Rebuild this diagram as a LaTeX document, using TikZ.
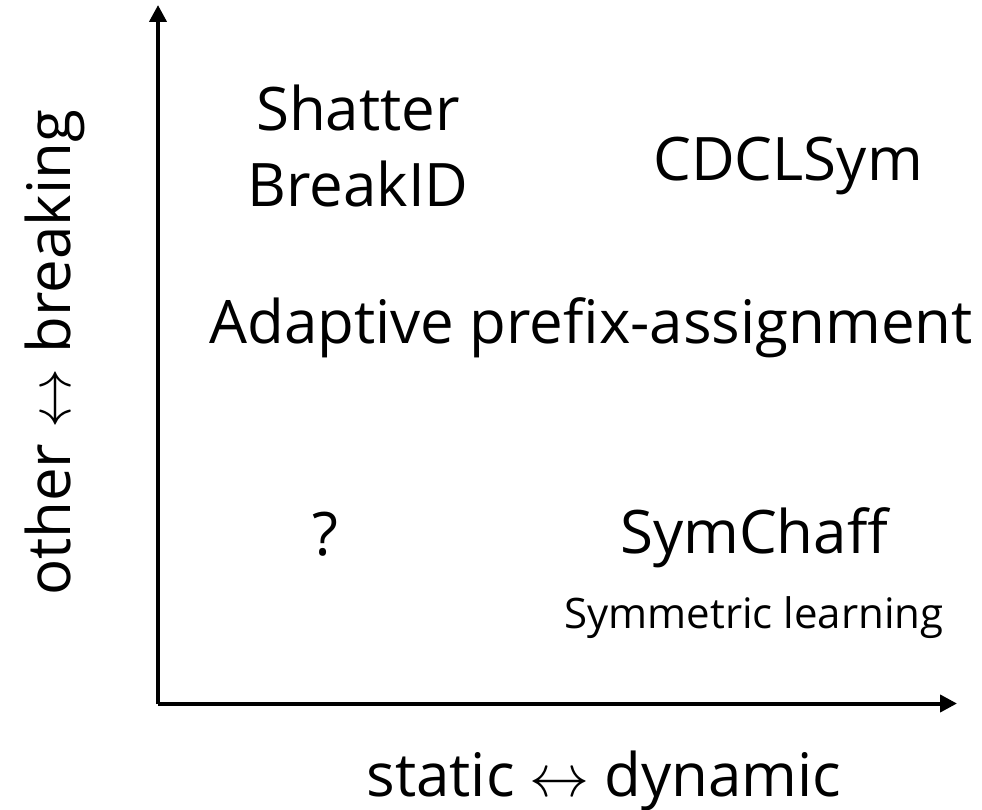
\RequirePackage{fix-cm}
\documentclass[tikz,border=0pt]{standalone}
\usepackage{fontspec}
\setmainfont{Open Sans}
\usetikzlibrary{arrows.meta}
\newcommand{\lrarr}{\hspace{15pt}$\leftrightarrow$\hspace{15pt}}
\tikzset{
  big/.style={font=\fontsize{60}{72}\selectfont, inner sep=0pt, anchor=base},
  small/.style={font=\fontsize{42}{50}\selectfont, inner sep=0pt, anchor=base},
  axis/.style={line width=4pt, -{Triangle[length=17pt,width=17pt]}}
}
\begin{document}
\begin{tikzpicture}[x=1pt,y=-1pt]
\useasboundingbox (0,0) rectangle (982,810);
\coordinate (o) at (158,703.5);
\coordinate (ytip) at (158,5);
\coordinate (xtip) at (957,703.5);
\draw[axis] (o) -- (ytip);
\draw[axis] (o) -- (xtip);
\node[big] (shatter) at (358,131) {Shatter};
\node[big] (breakid) at (358,207) {BreakID};
\node[big] (cdcl) at (788,181) {CDCLSym};
\node[big] (adaptive) at (591,343) {Adaptive prefix-assignment};
\node[big] (q) at (325,555) {?};
\node[big] (symchaff) at (754,553) {SymChaff};
\node[small] (symlearn) at (754,628) {Symmetric learning};
\node[big] (xlabel) at (604,796) {static\lrarr dynamic};
\node[big, rotate=90] (ylabel) at (70,353) {other\lrarr breaking};
\end{tikzpicture}
\end{document}
